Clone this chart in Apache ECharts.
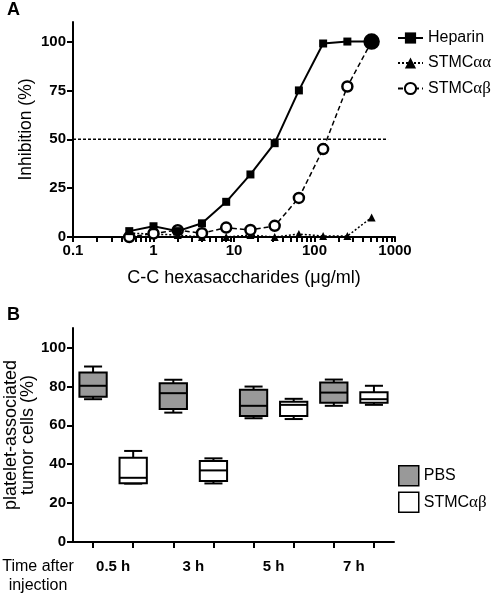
<!DOCTYPE html>
<html><head><meta charset="utf-8">
<script src="https://cdn.jsdelivr.net/npm/echarts@6/dist/echarts.min.js"></script>
<style>html,body{margin:0;padding:0;background:#fff}#c{width:493px;height:594px}</style>
</head><body><div id="c"></div>
<script>
// Panel A data
const concentrations = [0.5, 1, 2, 4, 8, 16, 32, 64, 128, 256, 512];
const heparin = [3, 5.5, 3, 7, 18, 32, 48, 75, 99, 100, 100];
const stmcAA = [2, 1.5, 1, 0, 0, 1, 0, 1.5, 0.5, 0.5, 10];
const stmcAB = [0, 1.8, 3.5, 1.9, 4.8, 3.6, 5.7, 20, 45, 77, 100];
const thresholdLine = [[0.1, 50], [820, 50]];
const xTicksA = [0.1, 1, 10, 100, 1000];
const xMinorTicksA = [0.2,0.3,0.4,0.5,0.6,0.7,0.8,0.9,2,3,4,5,6,7,8,9,20,30,40,50,60,70,80,90,200,300,400,500,600,700,800,900];
const yTicksA = [0, 25, 50, 75, 100];

// Panel B data: [min, Q1, median, Q3, max]
const timepoints = ['0.5 h', '3 h', '5 h', '7 h'];
const boxSlots = ['0.5 h PBS', '0.5 h STMC', '3 h PBS', '3 h STMC', '5 h PBS', '5 h STMC', '7 h PBS', '7 h STMC'];
const pbsBoxes = [[73.4, 74.7, 80.3, 87.1, 90.2], [66.5, 68.4, 76.5, 81.6, 83.4], [63.6, 64.8, 70, 78.2, 79.9], [70, 71.6, 76.8, 82, 83.5]];
const stmcBoxes = [[30, 30.2, 33, 43.3, 46.8], [30.1, 31.3, 36.8, 41.6, 43], [63.2, 64.8, 70.5, 72.1, 73.6], [70.5, 71.6, 73.4, 77, 80.3]];
const yTicksB = [0, 20, 40, 60, 80, 100];

const FONT = 'Arial, "Liberation Sans", sans-serif';
const GREEK = '"Liberation Serif", "Times New Roman", serif';
const chart = echarts.init(document.getElementById('c'), null, {renderer: 'canvas'});

function pairs(xs, ys) { return xs.map((x, i) => [x, ys[i]]); }
const abData = pairs(concentrations, stmcAB).map((p, i) => i === concentrations.length - 1
  ? {value: p, symbol: 'circle', symbolSize: 14, itemStyle: {color: '#000', borderColor: '#000'}} : p);

function renderBox(params, api) {
  const x = api.value(0);
  const mn = api.coord([x, api.value(1)]);
  const q1 = api.coord([x, api.value(2)]);
  const md = api.coord([x, api.value(3)]);
  const q3 = api.coord([x, api.value(4)]);
  const mx = api.coord([x, api.value(5)]);
  const band = api.size([1, 0])[0];
  const bw = band * 0.68, cw = band * 0.45;
  const cx = mn[0];
  const fill = api.visual('color');
  const ls = {stroke: '#000', lineWidth: 2};
  return {type: 'group', children: [
    {type: 'line', shape: {x1: cx, y1: mx[1], x2: cx, y2: q3[1]}, style: ls},
    {type: 'line', shape: {x1: cx, y1: q1[1], x2: cx, y2: mn[1]}, style: ls},
    {type: 'line', shape: {x1: cx - cw / 2, y1: mx[1], x2: cx + cw / 2, y2: mx[1]}, style: ls},
    {type: 'line', shape: {x1: cx - cw / 2, y1: mn[1], x2: cx + cw / 2, y2: mn[1]}, style: ls},
    {type: 'rect', shape: {x: cx - bw / 2, y: q3[1], width: bw, height: q1[1] - q3[1]}, style: {fill: fill, stroke: '#000', lineWidth: 2}},
    {type: 'line', shape: {x1: cx - bw / 2, y1: md[1], x2: cx + bw / 2, y2: md[1]}, style: ls}
  ]};
}

const tickLabel = {fontFamily: FONT, fontSize: 15, fontWeight: 'bold', color: '#000'};
const axisLine = {show: true, onZero: false, lineStyle: {color: '#000', width: 2}};
const greekFmt = name => name.trim().replace(/[\u03b1\u03b2]+/, m => '{g|' + m + '}');
const legendText = {fontFamily: FONT, fontSize: 16, color: '#000',
  rich: {g: {fontFamily: GREEK, fontSize: 17, color: '#000'}}};

chart.setOption({
  animation: false,
  backgroundColor: '#fff',
  textStyle: {fontFamily: FONT},
  grid: [
    {left: 73, top: 22, width: 322, height: 215, containLabel: false, outerBoundsMode: 'none'},
    {left: 73, top: 328, width: 321, height: 214, containLabel: false, outerBoundsMode: 'none'}
  ],
  xAxis: [
    {gridIndex: 0, type: 'log', logBase: 10, min: 0.1, max: 1000, position: 'bottom',
     name: 'C-C hexasaccharides (\u03bcg/ml)', nameLocation: 'middle', nameGap: 32,
     nameTextStyle: {fontFamily: FONT, fontSize: 18, color: '#000', padding: [0, 0, 0, 20]},
     axisLine: axisLine,
     axisTick: {show: true, length: 5, lineStyle: {color: '#000', width: 2}, customValues: xTicksA.concat(xMinorTicksA)},
     axisLabel: Object.assign({margin: 6, customValues: xTicksA, formatter: v => String(v)}, tickLabel),
     splitLine: {show: false}},
    {gridIndex: 1, type: 'category', data: boxSlots, boundaryGap: true, position: 'bottom',
     axisLine: axisLine,
     axisTick: {show: true, alignWithLabel: true, interval: 0, length: 6, lineStyle: {color: '#000', width: 2}},
     axisLabel: {show: false}, splitLine: {show: false}},
    {gridIndex: 1, type: 'category', data: timepoints, boundaryGap: true, position: 'bottom', offset: 0,
     axisLine: {show: false, onZero: false}, axisTick: {show: false},
     axisLabel: Object.assign({margin: 17, interval: 0}, tickLabel), splitLine: {show: false}}
  ],
  yAxis: [
    {gridIndex: 0, type: 'value', min: 0, max: 110,
     name: 'Inhibition (%)', nameLocation: 'middle', nameGap: 38, nameMoveOverlap: false,
     nameTextStyle: {fontFamily: FONT, fontSize: 17.5, color: '#000'},
     axisLine: axisLine,
     axisTick: {show: true, length: 6, lineStyle: {color: '#000', width: 2}, customValues: yTicksA},
     axisLabel: Object.assign({margin: 7, customValues: yTicksA}, tickLabel),
     splitLine: {show: false}},
    {gridIndex: 1, type: 'value', min: 0, max: 110,
     name: 'platelet-associated\ntumor cells (%)', nameLocation: 'middle', nameGap: 36, nameMoveOverlap: false,
     nameTextStyle: {fontFamily: FONT, fontSize: 18, color: '#000', lineHeight: 17},
     axisLine: axisLine,
     axisTick: {show: true, length: 6, lineStyle: {color: '#000', width: 2}, customValues: yTicksB},
     axisLabel: Object.assign({margin: 7, customValues: yTicksB}, tickLabel),
     splitLine: {show: false}}
  ],
  legend: [
    {data: ['Heparin', 'STMC\u03b1\u03b1', 'STMC\u03b1\u03b2'], orient: 'vertical', left: 397, top: 30, padding: 0,
     itemWidth: 25, itemHeight: 14, itemGap: 8.5, formatter: greekFmt, textStyle: legendText},
    {data: ['PBS', 'STMC\u03b1\u03b2 '], orient: 'vertical', left: 398, top: 465, padding: 0,
     icon: 'rect', itemWidth: 20, itemHeight: 20, itemGap: 5, formatter: greekFmt,
     itemStyle: {borderColor: '#000', borderWidth: 1.5}, textStyle: legendText}
  ],
  graphic: [
    {type: 'text', left: 7, top: 1, style: {text: 'A', font: 'bold 18px ' + FONT, fill: '#000'}},
    {type: 'text', left: 7, top: 306, style: {text: 'B', font: 'bold 18px ' + FONT, fill: '#000'}},
    {type: 'text', x: 38, y: 557, style: {text: 'Time after\ninjection', font: '16px ' + FONT, fill: '#000', align: 'center', lineHeight: 19}}
  ],
  series: [
    {name: 'threshold', type: 'line', xAxisIndex: 0, yAxisIndex: 0, data: thresholdLine,
     symbol: 'none', lineStyle: {color: '#000', width: 1.5, type: [3, 2]}, silent: true, z: 1},
    {name: 'STMC\u03b1\u03b1', type: 'line', xAxisIndex: 0, yAxisIndex: 0, data: pairs(concentrations, stmcAA),
     symbol: 'triangle', symbolSize: 8, itemStyle: {color: '#000'},
     lineStyle: {color: '#000', width: 1.5, type: [2, 2]}, z: 2},
    {name: 'STMC\u03b1\u03b2', type: 'line', xAxisIndex: 0, yAxisIndex: 0, data: abData,
     symbol: 'circle', symbolSize: 10, itemStyle: {color: '#fff', borderColor: '#000', borderWidth: 2.5},
     lineStyle: {color: '#000', width: 1.5, type: [5, 3]}, z: 3},
    {name: 'Heparin', type: 'line', xAxisIndex: 0, yAxisIndex: 0, data: pairs(concentrations, heparin),
     symbol: 'rect', symbolSize: 8, itemStyle: {color: '#000'},
     lineStyle: {color: '#000', width: 2}, z: 4},
    {name: 'PBS', type: 'custom', xAxisIndex: 1, yAxisIndex: 1, renderItem: renderBox,
     itemStyle: {color: '#999999'},
     encode: {x: 0, y: [1, 2, 3, 4, 5]},
     data: pbsBoxes.map((b, i) => [boxSlots[2 * i]].concat(b))},
    {name: 'STMC\u03b1\u03b2 ', type: 'custom', xAxisIndex: 1, yAxisIndex: 1, renderItem: renderBox,
     itemStyle: {color: '#ffffff'},
     encode: {x: 0, y: [1, 2, 3, 4, 5]},
     data: stmcBoxes.map((b, i) => [boxSlots[2 * i + 1]].concat(b))}
  ]
});
</script></body></html>
